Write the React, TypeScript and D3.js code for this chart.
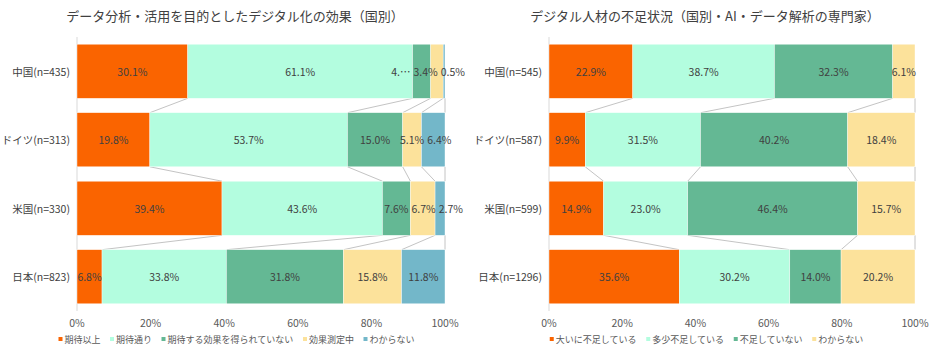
import React from "react";
import * as d3 from "d3";

// left chart: デジタル化の効果
const effectCategories = ["中国(n=435)", "ドイツ(n=313)", "米国(n=330)", "日本(n=823)"];
const effectSeries = ["期待以上", "期待通り", "期待する効果を得られていない", "効果測定中", "わからない"];
const effectValues = [
  [30.1, 61.1, 4.9, 3.4, 0.5],
  [19.8, 53.7, 15.0, 5.1, 6.4],
  [39.4, 43.6, 7.6, 6.7, 2.7],
  [6.8, 33.8, 31.8, 15.8, 11.8],
];
// Excel cut this one label short
const effectTruncated = [{ row: 0, series: 2, text: "4.…" }];

// right chart: デジタル人材の不足状況
const talentCategories = ["中国(n=545)", "ドイツ(n=587)", "米国(n=599)", "日本(n=1296)"];
const talentSeries = ["大いに不足している", "多少不足している", "不足していない", "わからない"];
const talentValues = [
  [22.9, 38.7, 32.3, 6.1],
  [9.9, 31.5, 40.2, 18.4],
  [14.9, 23.0, 46.4, 15.7],
  [35.6, 30.2, 14.0, 20.2],
];

const tickValues = [0, 20, 40, 60, 80, 100];
const tickLabels = ["0%", "20%", "40%", "60%", "80%", "100%"];

const colors = ["#fa6400", "#b3fddf", "#64b894", "#fce29b", "#73b7c9"];
const FONT = "'Noto Sans CJK JP', 'Noto Sans', sans-serif";

let ctx: CanvasRenderingContext2D | null = null;
const measure = (text: string, size: number) => {
  if (!ctx) ctx = document.createElement("canvas").getContext("2d");
  if (!ctx) return text.length * size * 0.6;
  ctx.font = `${size}px ${FONT}`;
  return ctx.measureText(text).width;
};

type ChartProps = {
  title: string;
  categories: string[];
  series: string[];
  values: number[][];
  x0: number;
  x1: number;
  centerX: number;
  truncated?: { row: number; series: number; text: string }[];
};

const StackedChart = ({ title, categories, series, values, x0, x1, centerX, truncated = [] }: ChartProps) => {
  const x = d3.scaleLinear().domain([0, 100]).range([x0, x1]);
  const y = d3
    .scaleBand()
    .domain(categories)
    .range([37, 311])
    .paddingInner(0.21)
    .paddingOuter(0.105);
  const bw = y.bandwidth();

  const rows = categories.map((c, i) => {
    const r: any = { cat: c };
    series.forEach((s, k) => (r[s] = values[i][k]));
    return r;
  });
  const stacked = d3.stack<any>().keys(series)(rows);

  // series lines between neighbouring bars
  const seriesLines: { x1: number; y1: number; x2: number; y2: number }[] = [];
  for (let i = 0; i < categories.length - 1; i++) {
    stacked.forEach((layer) => {
      seriesLines.push({
        x1: x(layer[i][1]),
        y1: (y(categories[i]) as number) + bw,
        x2: x(layer[i + 1][1]),
        y2: y(categories[i + 1]) as number,
      });
    });
  }

  // data labels, nudged apart when they collide
  const labelSize = 10.5;
  const gap = 3;
  const labels: { x: number; y: number; text: string; key: string }[] = [];
  categories.forEach((c, i) => {
    const items = stacked.map((layer, k) => {
      const t = truncated.find((d) => d.row === i && d.series === k);
      const text = t ? t.text : d3.format(".1f")(values[i][k]) + "%";
      const w = measure(text, labelSize);
      const cx = (x(layer[i][0]) + x(layer[i][1])) / 2;
      return { text, w, left: cx - w / 2 };
    });
    for (let k = 1; k < items.length; k++) {
      const prevEnd = items[k - 1].left + items[k - 1].w + gap;
      if (items[k].left < prevEnd) items[k].left = prevEnd;
    }
    const maxRight = x1 + 20;
    const last = items[items.length - 1];
    if (last.left + last.w > maxRight) last.left = maxRight - last.w;
    for (let k = items.length - 2; k >= 0; k--) {
      const nextStart = items[k + 1].left - gap;
      if (items[k].left + items[k].w > nextStart) items[k].left = nextStart - items[k].w;
    }
    items.forEach((it, k) =>
      labels.push({ x: it.left + it.w / 2, y: (y(c) as number) + bw / 2, text: it.text, key: `${i}-${k}` })
    );
  });

  // legend layout
  const legendSize = 9;
  const legendGap = 9.5;
  const widths = series.map((s) => 6 + measure(s, legendSize));
  const total = d3.sum(widths) + legendGap * (series.length - 1);
  let lx = centerX + 1.5 - total / 2;
  const legend = series.map((s, k) => {
    const item = { s, x: lx, color: colors[k] };
    lx += widths[k] + legendGap;
    return item;
  });

  return (
    <g fontFamily={FONT}>
      <text x={centerX} y={21} textAnchor="middle" fontSize={13} fill="#404040">
        {title}
      </text>
      <line x1={x0} x2={x0} y1={37} y2={311} stroke="#d9d9d9" />
      {seriesLines.map((l, i) => (
        <line key={i} {...l} stroke="#c4c4c4" strokeWidth={1} />
      ))}
      {stacked.map((layer, k) => (
        <g key={series[k]} fill={colors[k]}>
          {layer.map((d, i) => (
            <rect
              key={i}
              x={x(d[0])}
              y={y(categories[i])}
              width={Math.max(0, x(d[1]) - x(d[0]))}
              height={bw}
              stroke="#ffffff"
              strokeWidth={0.4}
            />
          ))}
        </g>
      ))}
      {labels.map((l) => (
        <text
          key={l.key}
          x={l.x}
          y={l.y}
          textAnchor="middle"
          dominantBaseline="central"
          fontSize={labelSize}
          fill="#404040"
        >
          {l.text}
        </text>
      ))}
      {categories.map((c) => (
        <text
          key={c}
          x={x0 - 7}
          y={(y(c) as number) + bw / 2}
          textAnchor="end"
          dominantBaseline="central"
          fontSize={10.5}
          fill="#404040"
        >
          {c}
        </text>
      ))}
      {tickValues.map((v, i) => (
        <text key={v} x={x(v)} y={322} textAnchor="middle" dominantBaseline="central" fontSize={10.5} fill="#595959">
          {tickLabels[i]}
        </text>
      ))}
      {legend.map((l) => (
        <g key={l.s}>
          <rect x={l.x} y={337} width={4} height={4} fill={l.color} />
          <text x={l.x + 6} y={339} dominantBaseline="central" fontSize={legendSize} fill="#595959">
            {l.s}
          </text>
        </g>
      ))}
    </g>
  );
};

export default function App() {
  return (
    <svg
      width={940}
      height={352}
      style={{ position: "absolute", left: 0, top: 0, background: "#ffffff" }}
    >
      <StackedChart
        title="データ分析・活用を目的としたデジタル化の効果（国別）"
        categories={effectCategories}
        series={effectSeries}
        values={effectValues}
        x0={77}
        x1={445}
        centerX={235}
        truncated={effectTruncated}
      />
      <StackedChart
        title="デジタル人材の不足状況（国別・AI・データ解析の専門家）"
        categories={talentCategories}
        series={talentSeries}
        values={talentValues}
        x0={549}
        x1={915}
        centerX={705}
      />
    </svg>
  );
}
